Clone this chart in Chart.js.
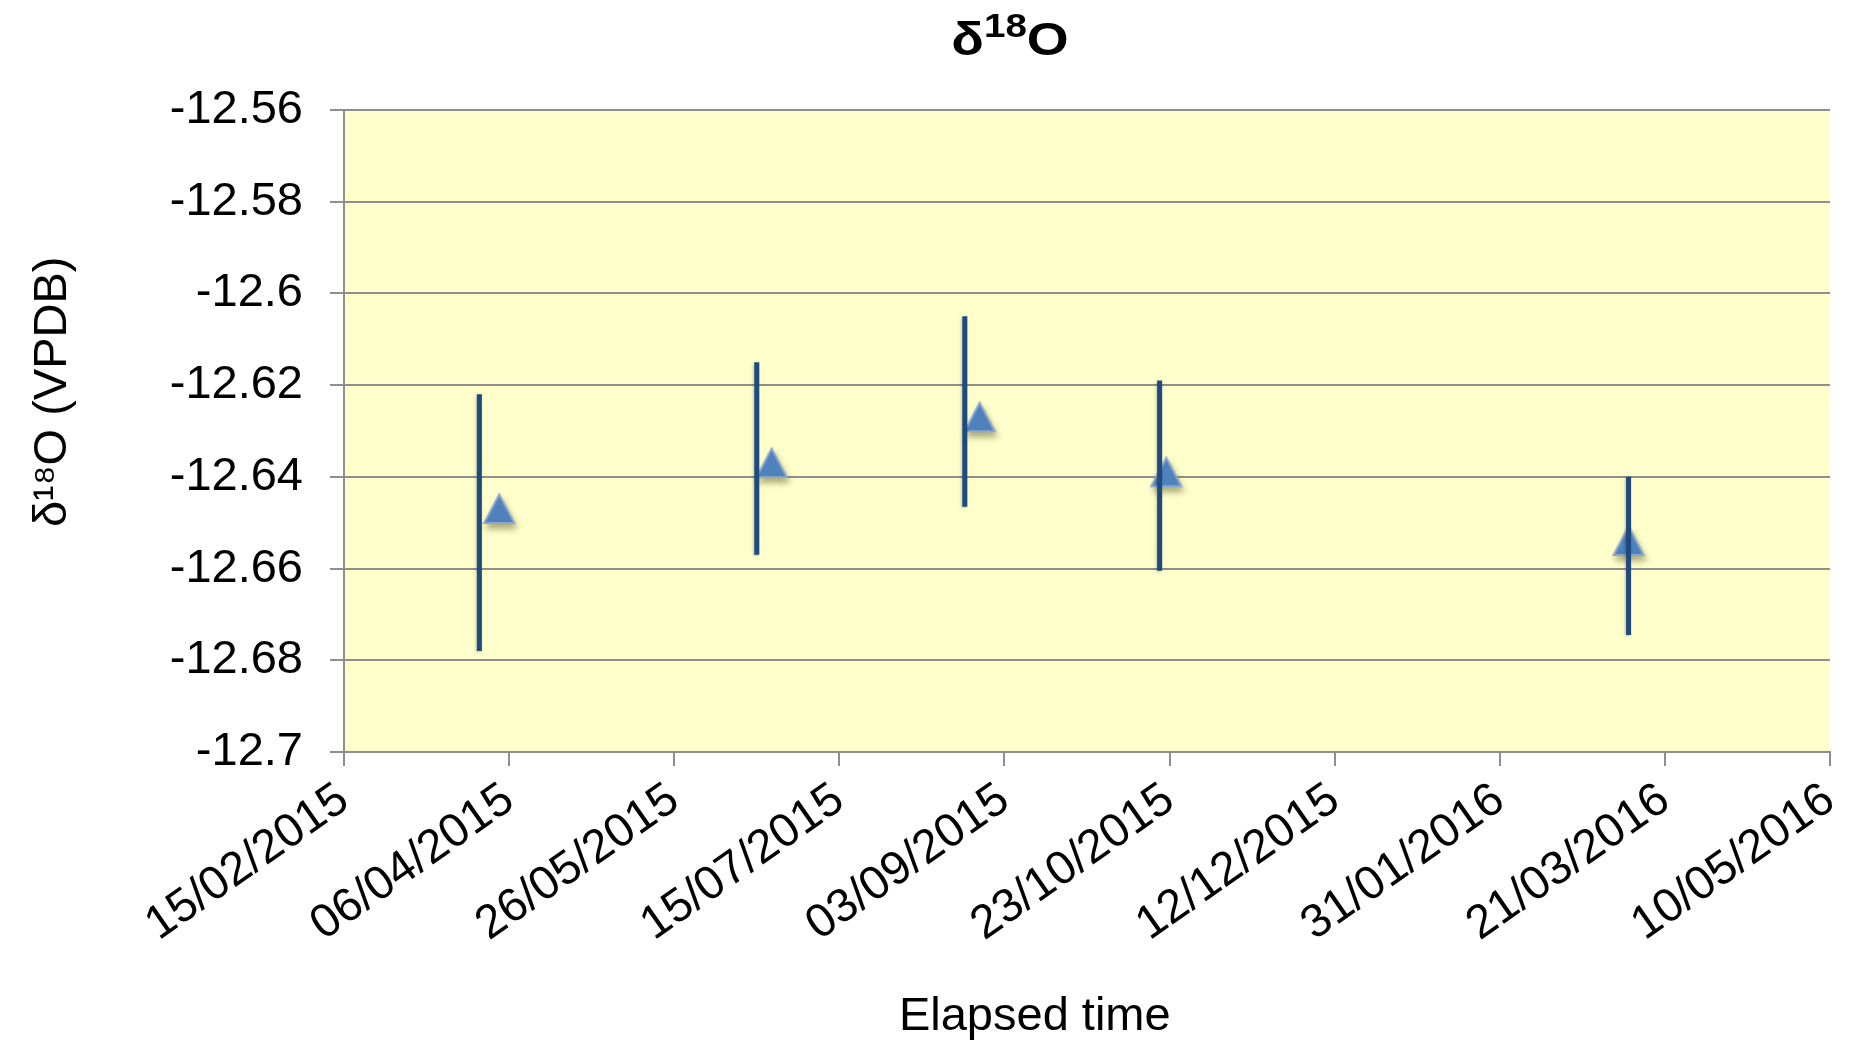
<!DOCTYPE html>
<html><head><meta charset="utf-8">
<script src="https://cdn.jsdelivr.net/npm/chart.js@4.4.1/dist/chart.umd.min.js"></script>
<style>html,body{margin:0;padding:0;background:#fff;overflow:hidden}canvas{display:block;background:#fff}</style>
</head><body>
<canvas id="c" width="1856" height="1041"></canvas>
<script>
// x values are Excel date serial numbers (days); 42050 = 15/02/2015
const xTickLabels = ['15/02/2015','06/04/2015','26/05/2015','15/07/2015','03/09/2015','23/10/2015','12/12/2015','31/01/2016','21/03/2016','10/05/2016'];
const xMin = 42050, xMax = 42500, xStep = 50;
const yTickLabels = ['-12.7','-12.68','-12.66','-12.64','-12.62','-12.6','-12.58','-12.56'];
const yMin = -12.7, yMax = -12.56, yStep = 0.02;
const markerDates = [42097, 42179.5, 42242.5, 42299, 42439];
const markerValues = [-12.647, -12.637, -12.627, -12.639, -12.654];
const errorDates = [42091, 42175, 42238, 42297, 42439];
const errorHigh = [-12.622, -12.615, -12.605, -12.619, -12.640];
const errorLow = [-12.678, -12.657, -12.6465, -12.6605, -12.6745];
// chart title "δ18O" with superscript 18
const titleParts = [['δ', false], ['18', true], ['O', false]];
const yTitle = 'δ¹⁸O (VPDB)';
const xTitle = 'Elapsed time';

const FAM = "'Liberation Sans', Arial, sans-serif";
const GRID = '#8e8e8e';

const markerData = markerDates.map((d, i) => ({x: d, y: markerValues[i]}));
const errorData = [];
errorDates.forEach((d, i) => {
  errorData.push({x: d, y: errorHigh[i]}, {x: d, y: errorLow[i]}, {x: d, y: null});
});

// triangle marker sprite (shape/style only)
const tri = document.createElement('canvas');
tri.width = 34; tri.height = 34;
(function(){
  const g = tri.getContext('2d');
  g.beginPath(); g.moveTo(17, 2.5); g.lineTo(32, 31); g.lineTo(2, 31); g.closePath();
  g.fillStyle = '#4F81BD'; g.fill();
  g.lineWidth = 2; g.strokeStyle = '#8BA7CF'; g.stroke();
})();

const plotBg = {
  id: 'plotBg',
  beforeDraw(chart) {
    const {ctx, chartArea: a} = chart;
    ctx.save(); ctx.fillStyle = '#FFFFCC';
    ctx.fillRect(a.left, a.top, a.right - a.left, a.bottom - a.top);
    ctx.restore();
  }
};
const richTitle = {
  id: 'richTitle',
  afterDraw(chart) {
    const ctx = chart.ctx;
    const big = `bold 46px ${FAM}`, small = `bold 33px ${FAM}`;
    ctx.save();
    let w = 0;
    const widths = titleParts.map(([t, sup]) => { ctx.font = sup ? small : big; const m = ctx.measureText(t).width; w += m; return m; });
    ctx.translate(1010, 0); ctx.scale(1.17, 1);
    let x = -w / 2;
    ctx.fillStyle = '#000'; ctx.textBaseline = 'alphabetic'; ctx.textAlign = 'left';
    titleParts.forEach(([t, sup], i) => {
      ctx.font = sup ? small : big;
      ctx.fillText(t, x, sup ? 37 : 55);
      x += widths[i];
    });
    ctx.restore();
  }
};
const shadow = {
  id: 'shadow',
  beforeDatasetDraw(chart, args) {
    const ctx = chart.ctx; ctx.save();
    if (args.index === 1) {
      ctx.shadowColor = 'rgba(70,70,20,0.45)'; ctx.shadowBlur = 6; ctx.shadowOffsetX = 2; ctx.shadowOffsetY = 5;
    } else {
      ctx.shadowColor = 'rgba(0,0,0,0.25)'; ctx.shadowBlur = 3; ctx.shadowOffsetX = -1; ctx.shadowOffsetY = 1;
    }
  },
  afterDatasetDraw(chart) { chart.ctx.restore(); }
};

new Chart(document.getElementById('c'), {
  type: 'scatter',
  data: {
    datasets: [
      {label: 'error', data: errorData, showLine: true, spanGaps: false, borderColor: '#1F4A7F', borderWidth: 5,
       borderCapStyle: 'butt', pointRadius: 0, pointHoverRadius: 0, order: 0},
      {label: 'δ18O', data: markerData, pointStyle: tri, pointRadius: 17, backgroundColor: '#4F81BD', order: 1}
    ]
  },
  options: {
    responsive: false, animation: false, devicePixelRatio: 1,
    layout: {padding: {top: 110, left: 0, right: 0, bottom: 0}},
    plugins: {
      legend: {display: false}, tooltip: {enabled: false}, title: {display: false}
    },
    scales: {
      x: {
        type: 'linear', min: xMin, max: xMax,
        ticks: {stepSize: xStep, autoSkip: false, minRotation: 35, maxRotation: 35, color: '#000', padding: 6,
                font: {family: FAM, size: 47},
                callback: v => { const i = Math.round((v - xMin) / xStep); return xTickLabels[i] ?? ''; }},
        grid: {drawOnChartArea: false, drawTicks: true, tickLength: 14, color: GRID, lineWidth: 2},
        border: {display: true, color: GRID, width: 2},
        title: {display: true, text: xTitle + '        ', color: '#000', font: {family: FAM, size: 47, lineHeight: 1}, padding: {top: 0, bottom: 0}},
        afterFit(s) { s.height = 289; s.paddingRight = 26; }
      },
      y: {
        min: yMin, max: yMax,
        ticks: {stepSize: yStep, color: '#000', padding: 27, font: {family: FAM, size: 47},
                callback: v => { const i = Math.round((v - yMin) / yStep); return yTickLabels[i] ?? ''; }},
        grid: {color: GRID, lineWidth: 2, tickLength: 14, drawTicks: true},
        border: {display: true, color: GRID, width: 2},
        title: {display: true, text: '      ' + yTitle, color: '#000', font: {family: FAM, size: 47}, padding: {top: 25, bottom: 0}},
        afterFit(s) { s.width = 344; }
      }
    }
  },
  plugins: [plotBg, shadow, richTitle]
});
</script>
</body></html>
